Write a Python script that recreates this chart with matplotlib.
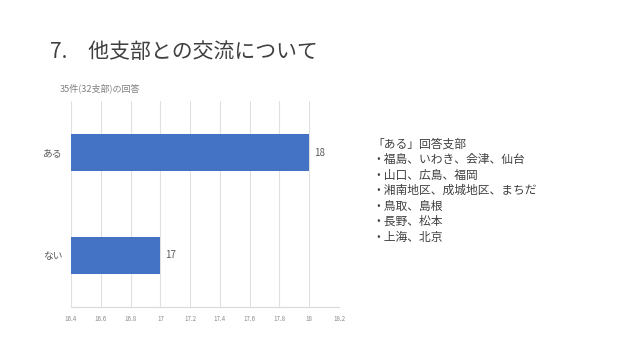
import matplotlib
matplotlib.use("Agg")
import matplotlib.pyplot as plt

plt.rcParams['font.family'] = ['Noto Sans CJK JP', 'DejaVu Sans']

categories = ["ない", "ある"]
values = [17, 18]
xticks = [16.4, 16.6, 16.8, 17, 17.2, 17.4, 17.6, 17.8, 18, 18.2]
xticklabels = ["16.4", "16.6", "16.8", "17", "17.2", "17.4", "17.6", "17.8", "18", "18.2"]
title = "7.\u3000他支部との交流について"
subtitle = "35件(32支部)の回答"
note_lines = ["「ある」回答支部",
              "・福島、いわき、会津、仙台",
              "・山口、広島、福岡",
              "・湘南地区、成城地区、まちだ",
              "・鳥取、島根",
              "・長野、松本",
              "・上海、北京"]

fig = plt.figure(figsize=(6.4, 3.6), dpi=100)
ax = fig.add_axes([71/640, 1-307/360, (339-71)/640, (307-101)/360])

ypos = list(range(len(categories)))
ax.barh(ypos, [v - 16.4 for v in values], left=16.4, height=0.36, color="#4472C4", zorder=3)
ax.set_xlim(16.4, 18.2)
ax.set_ylim(-0.5, 1.5)
ax.set_yticks(ypos)
ax.set_yticklabels(categories, fontsize=7, color="#595959")
ax.set_xticks(xticks)
ax.set_xticklabels(xticklabels, fontsize=4.5, color="#8c8c8c")
ax.tick_params(axis='both', length=0, pad=6)
ax.grid(axis='x', color="#e0e0e0", linewidth=0.8, zorder=0)
for s in ["top", "right", "left"]:
    ax.spines[s].set_visible(False)
ax.spines["bottom"].set_color("#d9d9d9")
ax.spines["bottom"].set_linewidth(0.8)

for y, v in zip(ypos, values):
    ax.text(v + 0.03, y, str(v), va='center', ha='left', fontsize=7, color="#595959")

fig.text(50/640, 1-52/360, title, fontsize=15, color="#404040", va='center', ha='left')
fig.text(60/640, 1-88/360, subtitle, fontsize=6.5, color="#7f7f7f", va='center', ha='left')

for i, line in enumerate(note_lines):
    fig.text(372/640, 1-(144 + i*15.5)/360, line, fontsize=8.5, color="#404040", va='center', ha='left')

fig.savefig("out.png", dpi=100)
